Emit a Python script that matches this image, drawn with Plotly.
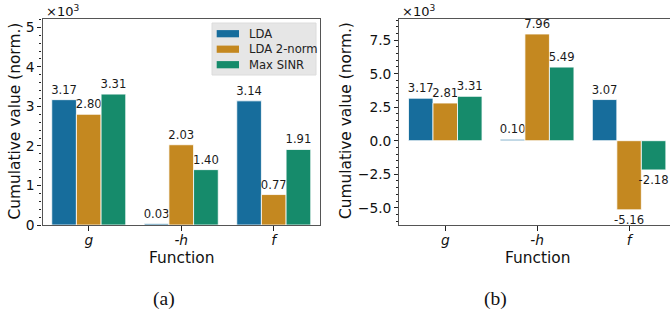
import plotly.graph_objects as go

W, H = 670, 318

categories = ["g", "-h", "f"]
tick_text = ["<i>g</i>", "<i>-h</i>", "<i>f</i>"]
series_names = ["LDA", "LDA 2-norm", "Max SINR"]
colors = ["#176d9c", "#c48820", "#168b6b"]

# panel (a) values, x10^3
a_lda = [3.17, 0.03, 3.14]
a_lda2 = [2.80, 2.03, 0.77]
a_sinr = [3.31, 1.40, 1.91]

# panel (b) values, x10^3
b_lda = [3.17, 0.10, 3.07]
b_lda2 = [2.81, 7.96, -5.16]
b_sinr = [3.31, 5.49, -2.18]

panel_a = [a_lda, a_lda2, a_sinr]
panel_b = [b_lda, b_lda2, b_sinr]


def px(x):
    return x / W


def py(y):
    return 1 - y / H


fig = go.Figure()
for i, name in enumerate(series_names):
    for vals, xa, ya in ((panel_a[i], "x", "y"), (panel_b[i], "x2", "y2")):
        fig.add_trace(go.Bar(
            x=categories, y=vals, name=name, xaxis=xa, yaxis=ya,
            marker=dict(color=colors[i], line=dict(color="white", width=0.8)),
            text=[f"{v:.2f}" for v in vals], textposition="outside",
            textfont=dict(size=11.6, color="#1a1a1a"), constraintext="none",
            cliponaxis=False, showlegend=False, hoverinfo="skip",
        ))

font = "DejaVu Sans, Verdana, sans-serif"
spine = "#555"
common_x = dict(
    type="category", tickmode="array", tickvals=categories, ticktext=tick_text,
    showgrid=False, zeroline=False, showline=True, linecolor=spine, linewidth=1.3,
    ticks="outside", ticklen=5, tickwidth=1, tickcolor="#222", ticklabelstandoff=-3,
    tickfont=dict(size=13.8, color="#111", family=font),
)
common_y = dict(
    showgrid=False, zeroline=False, showline=True, linecolor=spine, linewidth=1.3,
    ticks="outside", ticklen=4, tickwidth=1, tickcolor="#222",
    tickfont=dict(size=13.8, color="#111", family=font),
)

y_bot, y_top = py(225), py(19)

fig.update_layout(
    width=W, height=H, margin=dict(l=0, r=0, t=0, b=0, autoexpand=False),
    paper_bgcolor="white", plot_bgcolor="white",
    font=dict(family=font, color="#111"),
    barmode="group", bargap=0.2, bargroupgap=0,
    xaxis=dict(common_x, domain=[px(42.5), px(320)], range=[-0.5, 2.5],
               anchor="y", mirror=True),
    yaxis=dict(common_y, domain=[y_bot, y_top], range=[0, 5.21], anchor="x",
               dtick=1, tick0=0, mirror=True,
               minor=dict(dtick=0.2, ticklen=2, tickcolor="#222", ticks="outside")),
    xaxis2=dict(common_x, domain=[px(399.3), 1.0], range=[-0.5, 2.445],
                anchor="y2", mirror=True),
    yaxis2=dict(common_y, domain=[y_bot, y_top], range=[-6.29, 9.08], anchor="x2",
                dtick=2.5, tick0=0, tickformat=".1f", mirror=False,
                minor=dict(dtick=0.5, ticklen=2, tickcolor="#222", ticks="outside")),
)

ann = []


def add_text(text, x, y, size, xanchor="center", yanchor="middle", angle=0,
             family=font, color="#111"):
    ann.append(dict(text=text, x=px(x), y=py(y), xref="paper", yref="paper",
                    xanchor=xanchor, yanchor=yanchor, textangle=angle, showarrow=False,
                    font=dict(size=size, family=family, color=color)))


# axis titles
for cx in (14.5, 346):
    add_text("Cumulative value (norm.)", cx, 121, 15.4, angle=-90)
for cx in (181, 537.5):
    add_text("Function", cx, 257.5, 15.4)
# offset labels
for lx in (43.5, 399.5):
    add_text("×10<sup>3</sup>", lx, 11, 13, xanchor="left")
# panel captions
for cx, t in ((164, "(a)"), (495, "(b)")):
    add_text(t, cx, 299, 19.5, family="Liberation Serif, Times New Roman, serif")

# legend (drawn manually to match swatch shape)
shapes = [dict(type="rect", xref="paper", yref="paper", x0=px(212), x1=px(316),
               y0=py(75), y1=py(23), fillcolor="#e6e6e6", line=dict(color="#dcdcdc", width=1),
               layer="above")]
for i, name in enumerate(series_names):
    cy = 33.7 + 15.5 * i
    shapes.append(dict(type="rect", xref="paper", yref="paper", x0=px(216.7), x1=px(239),
                       y0=py(cy + 3.6), y1=py(cy - 3.6), fillcolor=colors[i],
                       line=dict(width=0), layer="above"))
    add_text(name, 246.5, cy, 11.6, xanchor="left", color="#222")

fig.update_layout(annotations=ann, shapes=shapes)
fig.write_html(
    "out.html",
    config={"displayModeBar": False},
    post_script="document.body.style.margin='0';document.body.style.overflow='hidden';",
)
